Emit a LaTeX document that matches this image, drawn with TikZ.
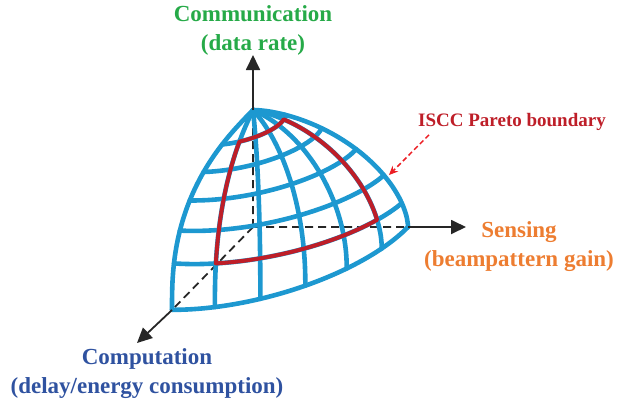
\documentclass[tikz,border=0pt]{standalone}
\usepackage{fontspec}
\setmainfont{Liberation Serif}
\usetikzlibrary{arrows.meta, positioning}
\definecolor{gridblue}{RGB}{29,152,208}
\definecolor{paretored}{RGB}{190,30,40}
\definecolor{pointred}{RGB}{236,30,36}
\definecolor{commgreen}{RGB}{38,170,72}
\definecolor{senseorange}{RGB}{237,125,49}
\definecolor{compblue}{RGB}{47,82,160}
\tikzset{
    axis/.style={line width=1.8pt, black!85},
    inner/.style={axis, dash pattern=on 8pt off 5pt},
    tip/.style={-{Triangle[length=15pt,width=14pt]}},
    grid/.style={line width=4.6pt, gridblue, line join=round, line cap=round},
    pareto/.style={line width=4pt, paretored, line join=round},
    pointer/.style={line width=1.5pt, pointred, dash pattern=on 5pt off 3pt,
        -{Stealth[length=9pt,width=8pt]}},
    lbl/.style={font=\fontsize{23}{29}\selectfont\bfseries, align=center, inner sep=0pt},
    % octant of the surface, meridian angle f, polar angle t
    declare function={
        pex(\f)=2/(1.7+1.1*\f/90);
        hh(\f,\t)=pow(max(cos(\t),0.0001),pex(\f));
        rr(\f,\t)=pow(max(sin(\t),0.0001),pex(\f));
        sx(\f,\t)=253+rr(\f,\t)*(155*cos(\f)-81*sin(\f));
        sy(\f,\t)=227-117*hh(\f,\t)+83*rr(\f,\t)*sin(\f);
    },
}

\begin{document}
\begin{tikzpicture}[x=1pt, y=-1pt]
    \useasboundingbox (0,0) rectangle (618,405);

    \coordinate (O) at (253,227);
    \coordinate (A) at (253,110);
    \coordinate (R) at (408,227);
    \coordinate (B) at (172,310);
    \coordinate (ctip) at (253,55);
    \coordinate (stip) at (466,227);
    \coordinate (dtip) at (137,343);

    \draw[inner] (O) -- (A) (O) -- (R) (O) -- (B);

    % meridians
    \foreach \f in {0,15,...,90}
        \draw[grid] plot[domain=0:90, samples=61, variable=\t, smooth] ({sx(\f,\t)},{sy(\f,\t)});
    % parallels
    \foreach \t in {15,30,...,90}
        \draw[grid] plot[domain=0:90, samples=31, variable=\f, smooth] ({sx(\f,\t)},{sy(\f,\t)});

    \draw[pareto] plot[domain=15:75, samples=25, variable=\t] ({sx(15,\t)},{sy(15,\t)})
        -- plot[domain=15:75, samples=25, variable=\f] ({sx(\f,75)},{sy(\f,75)})
        -- plot[domain=75:15, samples=25, variable=\t] ({sx(75,\t)},{sy(75,\t)})
        -- plot[domain=75:15, samples=25, variable=\f] ({sx(\f,15)},{sy(\f,15)}) -- cycle;

    \draw[axis, tip] (A) -- (ctip);
    \draw[axis, tip] (R) -- (stip);
    \draw[axis, tip] (B) -- (dtip);

    \node[lbl, commgreen] (comm) at (253,30) {Communication\\(data rate)};
    \node[lbl, senseorange] (sens) at (519,247) {Sensing\\(beampattern gain)};
    \node[lbl, compblue] (comp) at (147,374) {Computation\\(delay/energy consumption)};
    \node[lbl, font=\fontsize{19}{23}\selectfont\bfseries, paretored] (iscc) at (512,122) {ISCC Pareto boundary};

    \coordinate (hit) at (389,175);
    \draw[pointer] ([xshift=11pt,yshift=-4pt]iscc.south west) -- (hit);
\end{tikzpicture}
\end{document}
